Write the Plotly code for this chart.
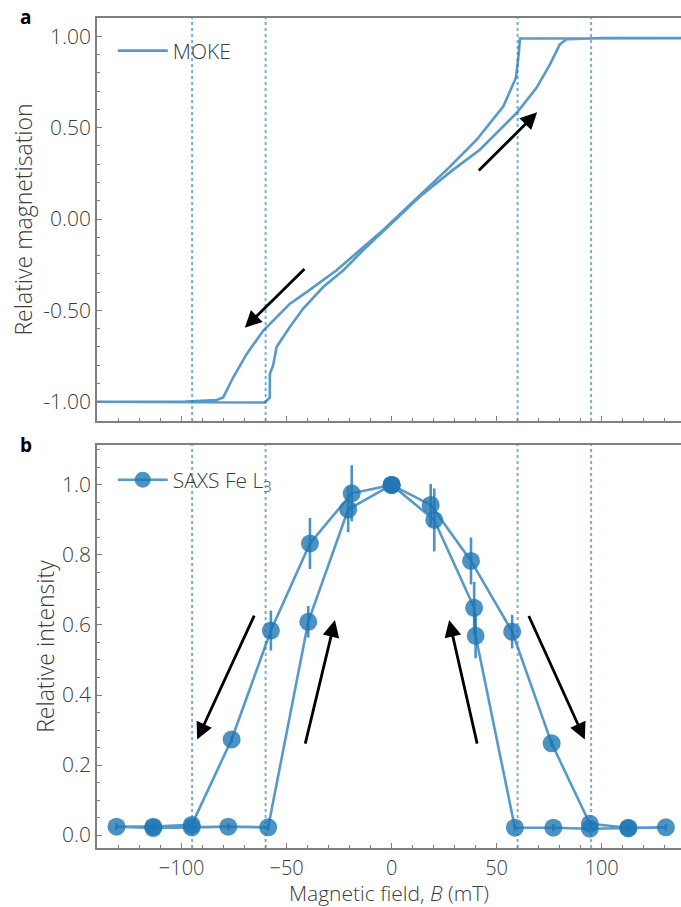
import plotly.graph_objects as go

# ---------------- data ----------------
# MOKE hysteresis loop: descending branch (high field -> low field)
moke_desc_B = [145, 100, 61.1, 60.5, 59.2, 53.2, 40.5, 27.8, 11.9, 5.5, -4, -15.1, -26.2,
               -40.5, -48.4, -61.1, -69, -75.4, -80.2, -83.3, -100, -145]
moke_desc_M = [0.99, 0.99, 0.988, 0.90, 0.773, 0.617, 0.434, 0.287, 0.114, 0.04, -0.06, -0.17, -0.28,
               -0.40, -0.463, -0.61, -0.738, -0.866, -0.976, -0.99, -1.0, -1.0]
# ascending branch (low field -> high field)
moke_asc_B = [-145, -100, -60.3, -58, -58, -56.4, -54.8, -48.4, -42.1, -32.6, -23, -13.5, -4,
              5.5, 13.5, 29.2, 42, 59.5, 69, 75.4, 80.1, 83.3, 100, 145]
moke_asc_M = [-1.0, -1.0, -1.004, -0.976, -0.848, -0.80, -0.70, -0.59, -0.49, -0.372, -0.28, -0.17, -0.065,
              0.035, 0.123, 0.269, 0.379, 0.58, 0.718, 0.846, 0.956, 0.984, 0.99, 0.99]

# SAXS Fe L3 relative intensity, in measurement order
saxs_B = [0, 18.6, 37.8, 57.4, 76.2, 94.4, 112.7, 130.6, 112.7, 94.4, 77.0, 58.7, 40.0, 39.3, 20.3, 0,
          -19.0, -38.9, -57.5, -76.2, -95.2, -113.5, -131.0, -113.5, -95.2, -77.8, -58.8, -39.7, -20.7, 0]
saxs_I = [1.0, 0.943, 0.783, 0.581, 0.262, 0.032, 0.021, 0.022, 0.019, 0.018, 0.021, 0.021, 0.569, 0.649, 0.90, 1.0,
          0.976, 0.833, 0.584, 0.273, 0.029, 0.024, 0.024, 0.020, 0.022, 0.024, 0.022, 0.609, 0.93, 1.0]
saxs_err = [0.01, 0.06, 0.067, 0.048, 0.01, 0.01, 0.01, 0.01, 0.01, 0.01, 0.01, 0.01, 0.064, 0.074, 0.09, 0.01,
            0.08, 0.073, 0.057, 0.01, 0.01, 0.01, 0.01, 0.01, 0.01, 0.01, 0.01, 0.045, 0.065, 0.01]

# vertical guide fields (mT)
guide_B = [-95, -60, 60, 95]

# arrows: (tail B, tail y, head B, head y)
arrows_a = [(40.8, 0.257, 69.3, 0.584), (-40.8, -0.265, -69.9, -0.595)]
arrows_b = [(-65.1, 0.631, -92.6, 0.273), (-41.3, 0.257, -27.0, 0.614),
            (40.9, 0.257, 27.4, 0.614), (65.0, 0.630, 92.0, 0.273)]

x_ticks = [-100, -50, 0, 50, 100]
x_ticktext = ["\u2212100", "\u221250", "0", "50", "100"]
ya_ticks = [-1.0, -0.5, 0.0, 0.5, 1.0]
ya_ticktext = ["-1.00", "-0.50", "0.00", "0.50", "1.00"]
yb_ticks = [0.0, 0.2, 0.4, 0.6, 0.8, 1.0]
yb_ticktext = ["0.0", "0.2", "0.4", "0.6", "0.8", "1.0"]

# ---------------- style ----------------
FONT = "Open Sans"
TXT = "#3c3c3c"
LINE_C = "rgba(31,119,180,0.75)"
MARK_C = "rgba(31,119,180,0.8)"
GUIDE_C = "rgba(31,119,180,0.6)"
SPINE = "#808080"

fig = go.Figure()

fig.add_trace(go.Scatter(
    x=moke_desc_B + moke_asc_B, y=moke_desc_M + moke_asc_M,
    mode="lines", name="MOKE", line=dict(color=LINE_C, width=2.6),
    xaxis="x", yaxis="y", legend="legend"))

fig.add_trace(go.Scatter(
    x=saxs_B, y=saxs_I, mode="lines+markers", name="SAXS Fe L<sub>3</sub>",
    line=dict(color=LINE_C, width=2.6),
    marker=dict(color=MARK_C, size=18, line=dict(width=0)),
    error_y=dict(type="data", array=saxs_err, visible=True, color=MARK_C, thickness=2.6, width=0),
    xaxis="x2", yaxis="y2", legend="legend2"))

shapes = []
for b in guide_B:
    for yr in ("y domain", "y2 domain"):
        xr = "x" if yr == "y domain" else "x2"
        shapes.append(dict(type="line", xref=xr, yref=yr, x0=b, x1=b, y0=0, y1=1,
                           line=dict(color=GUIDE_C, width=2, dash="dot"), layer="below"))

annotations = []
for (x0, y0, x1, y1) in arrows_a:
    annotations.append(dict(x=x1, y=y1, ax=x0, ay=y0, xref="x", yref="y", axref="x", ayref="y",
                            showarrow=True, arrowhead=2, arrowsize=1.2, arrowwidth=2.8,
                            arrowcolor="black", text=""))
for (x0, y0, x1, y1) in arrows_b:
    annotations.append(dict(x=x1, y=y1, ax=x0, ay=y0, xref="x2", yref="y2", axref="x2", ayref="y2",
                            showarrow=True, arrowhead=2, arrowsize=1.2, arrowwidth=2.8,
                            arrowcolor="black", text=""))

annotations.append(dict(text="<b>a</b>", x=-0.122, y=1.001, xref="paper", yref="paper",
                        showarrow=False, xanchor="center", yanchor="middle",
                        font=dict(family=FONT, size=19, color="black")))
annotations.append(dict(text="<b>b</b>", x=-0.122, y=0.4855, xref="paper", yref="paper",
                        showarrow=False, xanchor="center", yanchor="middle",
                        font=dict(family=FONT, size=19, color="black")))

xrange = [-140.3, 137.8]
tickfont = dict(family=FONT, size=21, color=TXT, weight=300)
xtickfont = dict(family=FONT, size=20, color=TXT, weight=300)
titlefont = dict(family=FONT, size=23, color=TXT, weight=300)
xtitlefont = dict(family=FONT, size=21, color=TXT, weight=300)
legfont = dict(family=FONT, size=21, color=TXT, weight=300)

common_x = dict(range=xrange, showline=True, linecolor=SPINE, linewidth=1.5, mirror=True,
                ticks="inside", ticklen=5, tickwidth=1.2, tickcolor=SPINE,
                tickvals=x_ticks, ticktext=x_ticktext, tickfont=xtickfont,
                minor=dict(dtick=10, ticks="inside", ticklen=3, tickcolor=SPINE, tickwidth=1),
                showgrid=False, zeroline=False)

fig.update_layout(
    width=681, height=907,
    margin=dict(l=97, r=0, t=18, b=59),
    plot_bgcolor="white", paper_bgcolor="white",
    font=dict(family=FONT, color=TXT),
    showlegend=True,
    xaxis=dict(**common_x, domain=[0, 1], anchor="y", showticklabels=False),
    yaxis=dict(domain=[0.5145, 1], anchor="x", range=[-1.105, 1.1],
               showline=True, linecolor=SPINE, linewidth=1.5, mirror=False,
               ticks="inside", ticklen=5, tickwidth=1.2, tickcolor=SPINE,
               tickvals=ya_ticks, ticktext=ya_ticktext, tickfont=tickfont,
               minor=dict(dtick=0.1, ticks="inside", ticklen=3, tickcolor=SPINE, tickwidth=1),
               showgrid=False, zeroline=False,
               title=dict(text="Relative magnetisation", font=titlefont, standoff=4)),
    xaxis2=dict(**common_x, domain=[0, 1], anchor="y2", matches="x", ticklabelstandoff=1,
                title=dict(text="Magnetic field, <i>B</i> (mT)", font=xtitlefont, standoff=7)),
    yaxis2=dict(domain=[0, 0.4855], anchor="x2", range=[-0.037, 1.114],
                showline=True, linecolor=SPINE, linewidth=1.5, mirror=False,
                ticks="inside", ticklen=5, tickwidth=1.2, tickcolor=SPINE,
                tickvals=yb_ticks, ticktext=yb_ticktext, tickfont=tickfont,
                minor=dict(dtick=0.05, ticks="inside", ticklen=3, tickcolor=SPINE, tickwidth=1),
                showgrid=False, zeroline=False,
                title=dict(text="Relative intensity", font=titlefont, standoff=1)),
    legend=dict(x=0.027, y=0.985, xanchor="left", yanchor="top", bgcolor="rgba(0,0,0,0)",
                itemwidth=50, font=legfont),
    legend2=dict(x=0.027, y=0.468, xanchor="left", yanchor="top", bgcolor="rgba(0,0,0,0)",
                 itemwidth=50, font=legfont),
    shapes=shapes,
    annotations=annotations,
)

fig.write_html("out.html")
